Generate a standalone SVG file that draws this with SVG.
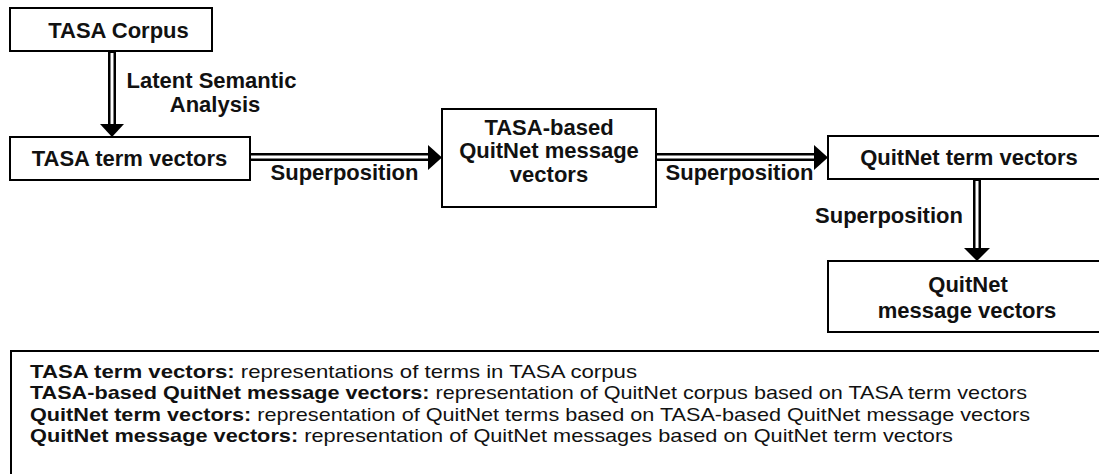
<svg xmlns="http://www.w3.org/2000/svg" width="1099" height="474" viewBox="0 0 1099 474">
<style>
.box{fill:#fff;stroke:#000;stroke-width:2}
.lbl{font-family:"Liberation Sans",Arial,sans-serif;font-weight:bold;font-size:22px;fill:#111;text-anchor:middle}
.leg{font-family:"Liberation Sans",Arial,sans-serif;font-size:19px;fill:#111}
.leg .b{font-weight:bold}
.shaft{stroke:#000;stroke-width:8;fill:none}
.gap{stroke:#fff;stroke-width:3;fill:none}
.head{fill:#000}
</style>
<rect width="1099" height="474" fill="#fff"/>
<g id="connectors">
  <g id="e1">
    <line class="shaft" x1="112" y1="51" x2="112" y2="126"/>
    <line class="gap" x1="112" y1="53" x2="112" y2="126"/>
    <polygon class="head" points="100,124 124,124 112,137"/>
  </g>
  <g id="e2">
    <line class="shaft" x1="250" y1="157" x2="430" y2="157"/>
    <line class="gap" x1="250" y1="157" x2="430" y2="157"/>
    <polygon class="head" points="428,145 428,170 442,157.5"/>
  </g>
  <g id="e3">
    <line class="shaft" x1="656" y1="157" x2="816" y2="157"/>
    <line class="gap" x1="657" y1="157" x2="816" y2="157"/>
    <polygon class="head" points="814,145 814,170 828,157.5"/>
  </g>
  <g id="e4">
    <line class="shaft" x1="977" y1="179" x2="977" y2="250"/>
    <line class="gap" x1="977" y1="181" x2="977" y2="250"/>
    <polygon class="head" points="964,248 990,248 977,261"/>
  </g>
  <text class="lbl" x="211.5" y="88">Latent Semantic</text>
  <text class="lbl" x="215" y="112">Analysis</text>
  <text class="lbl" x="344.5" y="180">Superposition</text>
  <text class="lbl" x="739.5" y="180">Superposition</text>
  <text class="lbl" x="889" y="223">Superposition</text>
</g>
<g id="n1">
  <rect class="box" x="10" y="8" width="202" height="43"/>
  <text class="lbl" x="118.5" y="38">TASA Corpus</text>
</g>
<g id="n2">
  <rect class="box" x="10" y="137" width="240" height="43"/>
  <text class="lbl" x="129.5" y="166">TASA term vectors</text>
</g>
<g id="n3">
  <rect class="box" x="442" y="109" width="214" height="98"/>
  <text class="lbl" x="549" y="135">TASA-based</text>
  <text class="lbl" x="549" y="158">QuitNet message</text>
  <text class="lbl" x="549" y="182">vectors</text>
</g>
<g id="n4">
  <rect class="box" x="828" y="136" width="290" height="43"/>
  <text class="lbl" x="969" y="165">QuitNet term vectors</text>
</g>
<g id="n5">
  <rect class="box" x="828" y="261" width="290" height="71"/>
  <text class="lbl" x="968" y="292">QuitNet</text>
  <text class="lbl" x="967" y="318">message vectors</text>
</g>
<g id="legend">
  <rect class="box" x="11" y="351" width="1110" height="140"/>
  <text class="leg" x="30" y="378" textLength="607" lengthAdjust="spacingAndGlyphs"><tspan class="b">TASA term vectors:</tspan> representations of terms in TASA corpus</text>
  <text class="leg" x="30" y="399.3" textLength="997" lengthAdjust="spacingAndGlyphs"><tspan class="b">TASA-based QuitNet message vectors:</tspan> representation of QuitNet corpus based on TASA term vectors</text>
  <text class="leg" x="30" y="420.6" textLength="1000" lengthAdjust="spacingAndGlyphs"><tspan class="b">QuitNet term vectors:</tspan> representation of QuitNet terms based on TASA-based QuitNet message vectors</text>
  <text class="leg" x="30" y="442" textLength="923" lengthAdjust="spacingAndGlyphs"><tspan class="b">QuitNet message vectors:</tspan> representation of QuitNet messages based on QuitNet term vectors</text>
</g>
</svg>
